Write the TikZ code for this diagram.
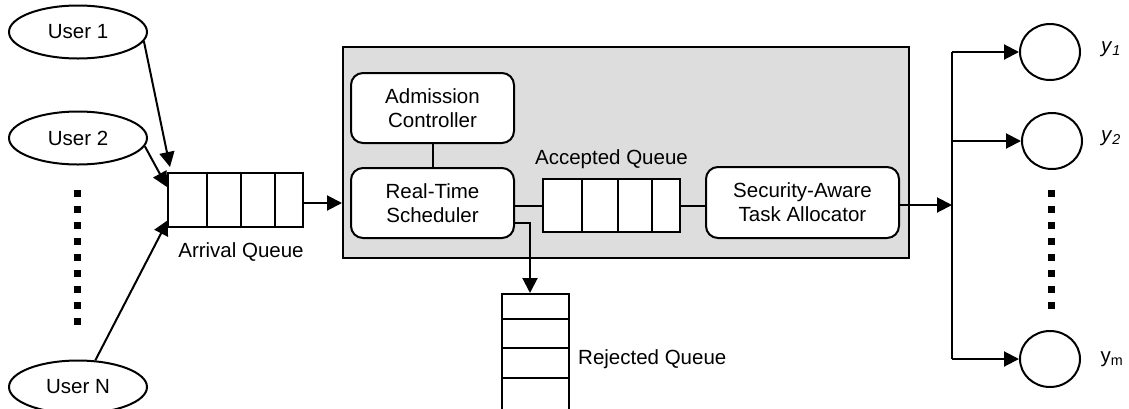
\documentclass[tikz,border=0pt]{standalone}
\usepackage{fontspec}
\setmainfont{Liberation Sans}
\usetikzlibrary{arrows.meta,shapes.geometric}
\definecolor{boxgray}{RGB}{221,221,221}
\begin{document}
\begin{tikzpicture}[x=1pt,y=-1pt,
  every node/.style={font=\fontsize{20.5}{24}\selectfont, inner sep=0pt},
  ln/.style={line width=2pt},
  arr/.style={ln,-{Triangle[length=15pt,width=15pt]}},
  user/.style={ellipse,draw,line width=2pt,minimum width=138pt,minimum height=53pt},
  qbox/.style={rectangle,draw,line width=2pt,fill=white},
  rbox/.style={rectangle,draw,line width=2pt,rounded corners=12pt,fill=white,align=center},
  srv/.style={ellipse,draw,line width=2pt,minimum width=60pt,minimum height=56pt},
  lbl/.style={}
]
\useasboundingbox (0,0) rectangle (1129,408);
\fill[white] (0,0) rectangle (1129,408);

% gray system box
\node[rectangle,draw,line width=2pt,fill=boxgray,minimum width=566pt,minimum height=211pt] (gb) at (626,152.5) {};

% users
\node[user] (u1) at (78,32) {User 1};
\node[user] (u2) at (78,138) {User 2};
\node[user] (uN) at (78,387) {User N};

% left dots
\foreach \yy in {193,209,225,241,257,273,289,305,321}
  \fill (73.5,\yy-3.5) rectangle (80.5,\yy+3.5);

% arrival queue
\node[qbox,minimum width=135pt,minimum height=54pt] (aq) at (235.5,200) {};
\foreach \xx in {207,241,275} \draw[ln] (\xx,173) -- (\xx,227);
\node[lbl] (aql) at (241,252) {Arrival Queue};

% inner boxes
\node[rbox,minimum width=163pt,minimum height=70pt] (ac) at (432.5,108) {Admission\\Controller};
\node[rbox,minimum width=163pt,minimum height=70pt] (rts) at (432.5,203) {Real-Time\\Scheduler};
\node[qbox,minimum width=137pt,minimum height=53pt] (accq) at (611.5,205.5) {};
\foreach \xx in {582,618,652} \draw[ln] (\xx,179) -- (\xx,232);
\node[lbl] (accl) at (611.5,159) {Accepted Queue};
\node[rbox,minimum width=193pt,minimum height=71pt] (sec) at (802.5,202.5) {Security-Aware\\Task Allocator};

% rejected queue
\node[qbox,minimum width=67pt,minimum height=122pt,anchor=north] (rq) at (535.5,293) {};
\foreach \yy in {319,348,378} \draw[ln] (502,\yy) -- (569,\yy);
\node[lbl,anchor=west] (rql) at (578,359) {Rejected Queue};

% servers
\node[srv] (c1) at (1050,52) {};
\node[srv] (c2) at (1052,141) {};
\node[srv] (cm) at (1050,359) {};
\node[lbl] (l1) at (1111,49) {\textit{y}\textsubscript{\textit{1}}};
\node[lbl] (l2) at (1111,138) {\textit{y}\textsubscript{\textit{2}}};
\node[lbl] (lm) at (1112,359) {y\textsubscript{m}};

% right dots
\foreach \yy in {193,209,225,241,257,273,289,305}
  \fill (1047.5,\yy-3.5) rectangle (1054.5,\yy+3.5);

% connectors
\coordinate (t1) at (170,167);
\coordinate (t2) at (167,187);
\coordinate (tN) at (168,220);
\draw[arr] (u1.-8.5) -- (t1);
\draw[arr] (u2.-7.7) -- (t2);
\draw[arr] (uN.57) -- (tN);
\draw[arr] (aq.east |- rts.west) -- (gb.west |- rts.west);
\draw[ln] (ac.south) -- (rts.north);
\draw[ln] (rts.east |- accq.west) -- (accq.west);
\draw[ln] (accq.east) -- (accq.east -| sec.west);
\coordinate (rj) at (530,222.5);
\draw[arr] (rj -| rts.east) -- (rj) -- (rj |- rq.north);
\coordinate (br) at (952,205);
\draw[arr] (sec.east |- br) -- (br);
\draw[ln] (br |- c1.west) -- (br |- cm.west);
\draw[arr] (br |- c1.west) -- (c1.west);
\draw[arr] (br |- c2.west) -- (c2.west);
\draw[arr] (br |- cm.west) -- (cm.west);
\end{tikzpicture}
\end{document}
